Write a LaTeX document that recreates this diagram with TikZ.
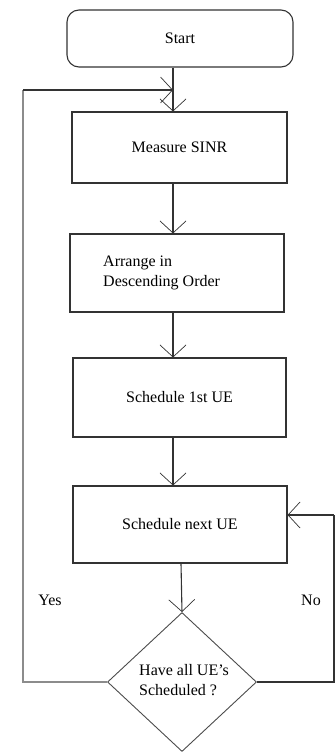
\documentclass[tikz,border=0pt]{standalone}
\usepackage{fontspec}
\setmainfont{Liberation Serif}
\usetikzlibrary{shapes.geometric,arrows.meta}
\begin{document}
\begin{tikzpicture}[x=1pt,y=-1pt,
  every node/.style={font=\fontsize{16}{20}\selectfont},
  boxst/.style={draw=black!80,line width=1.1pt,rectangle,inner sep=0pt},
  arr/.style={draw=black!80,line width=1.1pt,-{Straight Barb[length=12pt,width=26pt,line width=0.7pt]}},
  ln/.style={draw=black!80,line width=1.1pt},
  lnl/.style={draw=black!45,line width=1.1pt}]
\useasboundingbox (0,0) rectangle (335,755);
\fill[white] (0,0) rectangle (335,755);
\node[boxst,rounded corners=12pt,minimum width=226pt,minimum height=57pt] (start) at (180,38.5) {Start};
\node[boxst,minimum width=215pt,minimum height=71pt] (measure) at (179.5,147.5) {Measure SINR};
\node[boxst,minimum width=214pt,minimum height=78pt] (arrange) at (177,273) {};
\node[anchor=west,align=left,inner sep=0pt] (arrtxt) at (103,273) {Arrange in\\Descending Order};
\node[boxst,minimum width=213pt,minimum height=79pt] (sched1) at (179.5,397.5) {Schedule 1st UE};
\node[boxst,minimum width=214pt,minimum height=77pt] (schednext) at (180,524.5) {Schedule next UE};
\node[diamond,draw=black!70,line width=0.9pt,minimum width=149pt,minimum height=139pt,inner sep=0pt] (dec) at (182,682) {};
\node[anchor=west,align=left,inner sep=0pt] (dectxt) at (139,680) {Have all UE's\\Scheduled ?};
\node (yes) at (50,600) {Yes};
\node (no) at (311,600) {No};
\coordinate (colA) at (173,0);
\coordinate (colB) at (181,0);
\coordinate (loopL) at (23,90);
\coordinate (noR) at (334,515);
\draw[arr] (start.south -| colA) -- (measure.north -| colA);
\draw[arr] (measure.south -| colA) -- (arrange.north -| colA);
\draw[arr] (arrange.south -| colA) -- (sched1.north -| colA);
\draw[arr] (sched1.south -| colA) -- (schednext.north -| colA);
\draw[arr] (schednext.south -| colB) -- (dec.north);
\draw[lnl] (dec.west) -| (loopL);
\draw[arr] (loopL) -- (loopL -| colA);
\draw[ln] (dec.east) -| (noR);
\draw[arr] (noR) -- (schednext.east |- noR);
\end{tikzpicture}
\end{document}
